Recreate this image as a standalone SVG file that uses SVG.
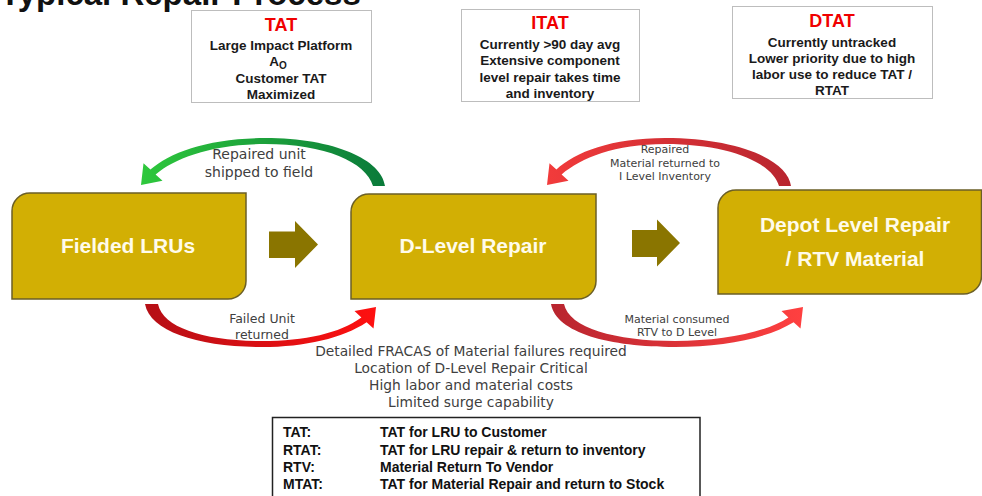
<svg xmlns="http://www.w3.org/2000/svg" width="982" height="496" viewBox="0 0 982 496">
<style>
.title{font-family:"Liberation Sans",Arial,sans-serif;font-weight:bold;font-size:33px;fill:#111}
.note{fill:#fff;stroke:#BDBDBD;stroke-width:1}
.nt{font-family:"Liberation Sans",Arial,sans-serif;font-weight:bold;font-size:18px;fill:#F00000;text-anchor:middle}
.nx{font-family:"Liberation Sans",Arial,sans-serif;font-weight:bold;font-size:13.5px;fill:#1A1A1A;text-anchor:middle}
.box{fill:#D2AF04;stroke:#6B5F27;stroke-width:1.5}
.bl{font-family:"Liberation Sans",Arial,sans-serif;font-weight:bold;font-size:21px;fill:#FFFBEA;text-anchor:middle}
.blk{fill:#8A7500}
.lab{font-family:"DejaVu Sans",Verdana,sans-serif;font-size:14px;fill:#404040;text-anchor:middle}
.lab13{font-family:"DejaVu Sans",Verdana,sans-serif;font-size:12.5px;fill:#404040;text-anchor:middle}
.lab11{font-family:"DejaVu Sans",Verdana,sans-serif;font-size:11px;fill:#404040;text-anchor:middle}
.info{font-family:"DejaVu Sans",Verdana,sans-serif;font-size:13.8px;fill:#404040;text-anchor:middle}
.leg{font-family:"Liberation Sans",Arial,sans-serif;font-weight:bold;font-size:14px;fill:#111}
</style>
<defs>
<linearGradient id="gGreen" gradientUnits="userSpaceOnUse" x1="141" y1="0" x2="385" y2="0">
<stop offset="0" stop-color="#2EC83C"/><stop offset="1" stop-color="#0A7A3A"/>
</linearGradient>
<linearGradient id="gRed1" gradientUnits="userSpaceOnUse" x1="145" y1="0" x2="376" y2="0">
<stop offset="0" stop-color="#B50F16"/><stop offset="1" stop-color="#FF1010"/>
</linearGradient>
<linearGradient id="gRed2" gradientUnits="userSpaceOnUse" x1="547" y1="0" x2="791" y2="0">
<stop offset="0" stop-color="#F23B3B"/><stop offset="1" stop-color="#B8252F"/>
</linearGradient>
<linearGradient id="gRed3" gradientUnits="userSpaceOnUse" x1="551" y1="0" x2="803" y2="0">
<stop offset="0" stop-color="#B8252F"/><stop offset="1" stop-color="#FF4040"/>
</linearGradient>
</defs>
<rect width="982" height="496" fill="#fff"/>
<text class="title" x="0" y="5">Typical Repair Process</text>

<g id="note-tat">
<rect class="note" x="191.5" y="10.5" width="180" height="92"/>
<text class="nt" x="281" y="31">TAT</text>
<text class="nx" x="281" y="50">Large Impact Platform</text>
<text class="nx" x="278" y="66">A<tspan font-size="10" dy="3">O</tspan></text>
<text class="nx" x="281" y="83">Customer TAT</text>
<text class="nx" x="281" y="99">Maximized</text>
</g>
<g id="note-itat">
<rect class="note" x="461.5" y="9.5" width="178" height="92"/>
<text class="nt" x="550" y="29">ITAT</text>
<text class="nx" x="550" y="49">Currently &gt;90 day avg</text>
<text class="nx" x="550" y="65">Extensive component</text>
<text class="nx" x="550" y="82">level repair takes time</text>
<text class="nx" x="550" y="98">and inventory</text>
</g>
<g id="note-dtat">
<rect class="note" x="732.5" y="6.5" width="200" height="92"/>
<text class="nt" x="832" y="27">DTAT</text>
<text class="nx" x="832" y="47">Currently untracked</text>
<text class="nx" x="832" y="63">Lower priority due to high</text>
<text class="nx" x="832" y="79">labor use to reduce TAT /</text>
<text class="nx" x="832" y="95">RTAT</text>
</g>

<g id="fielded">
<path class="box" d="M30 193 H246 V281 A18 18 0 0 1 228 299 H12 V211 A18 18 0 0 1 30 193 Z"/>
<text class="bl" x="128" y="253">Fielded LRUs</text>
</g>
<g id="dlevel">
<path class="box" d="M369 194 H596 V281 A18 18 0 0 1 578 299 H351 V212 A18 18 0 0 1 369 194 Z"/>
<text class="bl" x="473" y="253">D-Level Repair</text>
</g>
<g id="depot">
<path class="box" d="M736 190 H981.5 V276 A18 18 0 0 1 963.5 294 H718 V208 A18 18 0 0 1 736 190 Z"/>
<text class="bl" x="855" y="232">Depot Level Repair</text>
<text class="bl" x="855" y="266">/ RTV Material</text>
</g>

<g id="connectors">
<polygon class="blk" points="269,231.5 295,231.5 295,221 318,244.5 295,268 295,258 269,258"/>
<polygon class="blk" points="632,230 657,230 657,219.5 680,243 657,266.5 657,257 632,257"/>
<path fill="url(#gGreen)" d="M385 186 C382 160 335 138 265 138 C210 138 170 152 150.4 169.6 L143.5 163.2 L141 185 L162.5 180.8 L155.6 174.4 C175 158 212 144 265 144 C325 144 366 162 373 186 Z"/>
<path fill="url(#gRed1)" d="M145 304 C150 332 200 347 262 347 C305 347 343 338 366.6 322.2 L373.5 328.6 L376 307 L354.5 311 L361.4 317.4 C340 333 305 341 262 341 C205 341 163 328 158 304 Z"/>
<path fill="url(#gRed2)" d="M791 186 C788 160 738 138 665 138 C612 138 575 152 556.4 169.6 L549.5 163.2 L547 185 L568.5 180.8 L561.6 174.4 C581 158 615 144 665 144 C728 144 772 162 779 186 Z"/>
<path fill="url(#gRed3)" d="M551 304 C556 333 610 347 675 347 C725 347 768 338 793.6 322.2 L800.5 328.6 L803 307 L781.5 311 L788.4 317.4 C765 333 722 341 675 341 C615 341 569 328 564 304 Z"/>
<text class="lab" x="259" y="159">Repaired unit</text>
<text class="lab" x="259" y="177">shipped to field</text>
<text class="lab13" x="262" y="323">Failed Unit</text>
<text class="lab13" x="262" y="339">returned</text>
<text class="lab11" x="665" y="153">Repaired</text>
<text class="lab11" x="665" y="167">Material returned to</text>
<text class="lab11" x="665" y="180">I Level Inventory</text>
<text class="lab11" x="677" y="323">Material consumed</text>
<text class="lab11" x="677" y="336">RTV to D Level</text>
</g>

<g id="notes-bottom">
<text class="info" x="471" y="356">Detailed FRACAS of Material failures required</text>
<text class="info" x="471" y="373">Location of D-Level Repair Critical</text>
<text class="info" x="471" y="390">High labor and material costs</text>
<text class="info" x="471" y="407">Limited surge capability</text>
</g>

<g id="legend">
<rect x="272.5" y="417.5" width="427.5" height="100" fill="#fff" stroke="#222" stroke-width="1.5"/>
<text class="leg" x="283" y="437">TAT:</text>
<text class="leg" x="380" y="437">TAT for LRU to Customer</text>
<text class="leg" x="283" y="455">RTAT:</text>
<text class="leg" x="380" y="455">TAT for LRU repair &amp; return to inventory</text>
<text class="leg" x="283" y="472">RTV:</text>
<text class="leg" x="380" y="472">Material Return To Vendor</text>
<text class="leg" x="283" y="489">MTAT:</text>
<text class="leg" x="380" y="489">TAT for Material Repair and return to Stock</text>
</g>
</svg>
